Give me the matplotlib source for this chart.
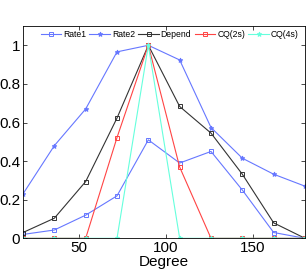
import matplotlib
matplotlib.use("Agg")
import matplotlib.pyplot as plt

plt.rcParams['font.family'] = ['Liberation Sans', 'DejaVu Sans']

degree = [18, 36, 54, 72, 90, 108, 126, 144, 162, 180]
rate1 = [0.02, 0.043, 0.12, 0.22, 0.51, 0.39, 0.45, 0.25, 0.03, 0.0]
rate2 = [0.23, 0.48, 0.67, 0.966, 1.0, 0.924, 0.574, 0.415, 0.332, 0.27]
depend = [0.03, 0.104, 0.294, 0.623, 1.0, 0.683, 0.545, 0.332, 0.08, 0.0]
cq2s = [0.0, 0.0, 0.0, 0.522, 1.0, 0.369, 0.0, 0.0, 0.0, 0.0]
cq4s = [0.0, 0.0, 0.0, 0.0, 1.0, 0.0, 0.0, 0.0, 0.0, 0.0]

fig = plt.figure(figsize=(3.07, 2.73), dpi=100)
ax = fig.add_axes([23/307, 1-238.3/273, (305-23)/307, (238.3-26)/273])

blue = "#6677ff"
ax.plot(degree, rate1, color=blue, lw=0.8, marker='s', ms=3.5, mfc='none', mew=0.7, label='Rate1')
ax.plot(degree, rate2, color=blue, lw=0.8, marker='*', ms=3.5, mew=0.7, label='Rate2')
ax.plot(degree, depend, color="#333333", lw=0.8, marker='s', ms=3.5, mfc='none', mew=0.7, label='Depend')
ax.plot(degree, cq2s, color="#ff4444", lw=0.8, marker='s', ms=3.5, mfc='none', mew=0.7, label='CQ(2s)')
ax.plot(degree, cq4s, color="#66ffdd", lw=0.8, marker='*', ms=3.5, mew=0.7, label='CQ(4s)')

ax.set_xlim(18, 180)
ax.set_ylim(0, 1.1)
ax.set_xticks([50, 100, 150])
ax.set_yticks([0, 0.2, 0.4, 0.6, 0.8, 1])
ax.set_yticklabels(['0', '0.2', '0.4', '0.6', '0.8', '1'])
ax.tick_params(direction='in', labelsize=11, length=3, width=0.5, top=True, right=True, pad=2)
for s in ax.spines.values():
    s.set_linewidth(0.6)
ax.set_xlabel('Degree', fontsize=11, labelpad=0)

ax.legend(loc='upper center', ncol=5, frameon=False, fontsize=6.2, handlelength=2.4,
          handletextpad=0.2, columnspacing=0.4, bbox_to_anchor=(0.52, 1.01), borderaxespad=0.3)

fig.savefig("out.png", dpi=100)
